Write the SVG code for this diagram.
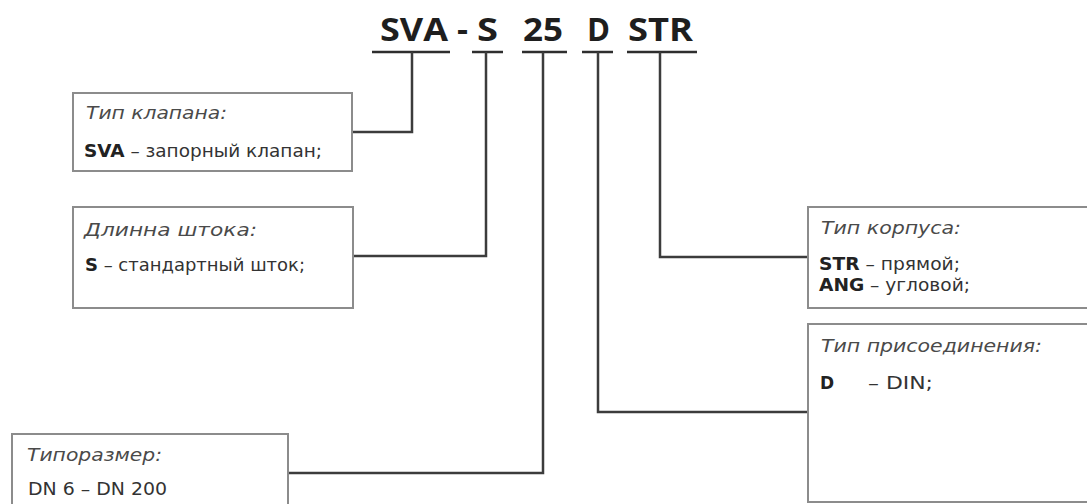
<svg xmlns="http://www.w3.org/2000/svg" width="1087" height="504" viewBox="0 0 1087 504">
<style>
.bg{fill:#ffffff}
.box{fill:#ffffff;stroke:#8c8c8c;stroke-width:2}
.con{fill:none;stroke:#3c3c3c;stroke-width:2.5}
.ul{stroke:#2e2e2e;stroke-width:2.5}
.title{font-family:"Open Sans","Liberation Sans",sans-serif;font-weight:bold;font-size:33px;fill:#1e1e1e}
.hd{font-family:"DejaVu Sans","Liberation Sans",sans-serif;font-style:italic;font-size:17px;fill:#4a4a4a}
.tx{font-family:"DejaVu Sans","Liberation Sans",sans-serif;font-size:17px;fill:#333333}
.b{font-weight:bold;fill:#222222}
</style>
<rect class="bg" x="0" y="0" width="1087" height="504"/>
<g id="title">
<text class="title" x="380" y="41" textLength="68" lengthAdjust="spacingAndGlyphs">SVA</text>
<text class="title" x="457" y="41" textLength="11" lengthAdjust="spacingAndGlyphs">-</text>
<text class="title" x="477" y="41" textLength="21" lengthAdjust="spacingAndGlyphs">S</text>
<text class="title" x="523" y="41" textLength="40" lengthAdjust="spacingAndGlyphs">25</text>
<text class="title" x="587" y="41" textLength="23" lengthAdjust="spacingAndGlyphs">D</text>
<text class="title" x="628" y="41" textLength="65" lengthAdjust="spacingAndGlyphs">STR</text>
<line class="ul" x1="372" y1="52" x2="450" y2="52"/>
<line class="ul" x1="472" y1="52" x2="503" y2="52"/>
<line class="ul" x1="522" y1="52" x2="567" y2="52"/>
<line class="ul" x1="582" y1="52" x2="613" y2="52"/>
<line class="ul" x1="627" y1="52" x2="697" y2="52"/>
</g>
<g id="connectors">
<path class="con" d="M412,52 V132 H352"/>
<path class="con" d="M486,52 V256 H353"/>
<path class="con" d="M543,52 V473 H288"/>
<path class="con" d="M598,52 V412 H808"/>
<path class="con" d="M660,52 V257 H808"/>
</g>
<g id="node-valve-type">
<rect class="box" x="73" y="93" width="279" height="78"/>
<text class="hd" x="86" y="119" textLength="141" lengthAdjust="spacingAndGlyphs">Тип клапана:</text>
<text class="tx" x="84" y="157" textLength="238" lengthAdjust="spacingAndGlyphs"><tspan class="b">SVA</tspan> – запорный клапан;</text>
</g>
<g id="node-stem-length">
<rect class="box" x="73" y="207" width="280" height="101"/>
<text class="hd" x="84" y="236" textLength="173" lengthAdjust="spacingAndGlyphs">Длинна штока:</text>
<text class="tx" x="85" y="271" textLength="220" lengthAdjust="spacingAndGlyphs"><tspan class="b">S</tspan> – стандартный шток;</text>
</g>
<g id="node-size">
<rect class="box" x="12" y="434" width="276" height="80"/>
<text class="hd" x="27" y="461" textLength="135" lengthAdjust="spacingAndGlyphs">Типоразмер:</text>
<text class="tx" x="28" y="495" textLength="139" lengthAdjust="spacingAndGlyphs">DN 6 – DN 200</text>
</g>
<g id="node-body-type">
<rect class="box" x="808" y="207" width="290" height="101"/>
<text class="hd" x="821" y="234" textLength="140" lengthAdjust="spacingAndGlyphs">Тип корпуса:</text>
<text class="tx" x="819" y="270" textLength="141" lengthAdjust="spacingAndGlyphs"><tspan class="b">STR</tspan> – прямой;</text>
<text class="tx" x="819" y="291" textLength="151" lengthAdjust="spacingAndGlyphs"><tspan class="b">ANG</tspan> – угловой;</text>
</g>
<g id="node-connection-type">
<rect class="box" x="808" y="324" width="290" height="178"/>
<text class="hd" x="821" y="352" textLength="221" lengthAdjust="spacingAndGlyphs">Тип присоединения:</text>
<text class="tx b" x="820" y="389">D</text>
<text class="tx" x="868" y="389" textLength="65" lengthAdjust="spacingAndGlyphs">– DIN;</text>
</g>
</svg>
